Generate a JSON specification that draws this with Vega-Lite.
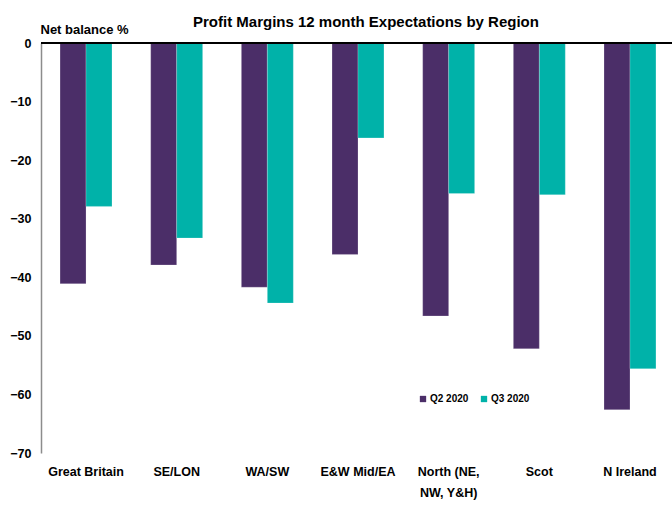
{
  "$schema": "https://vega.github.io/schema/vega-lite/v6.json",
  "autosize": {"type": "none"},
  "width": 634,
  "height": 410,
  "padding": {"left": 41, "top": 43, "right": 0, "bottom": 61},
  "background": "white",
  "title": {
    "text": "Profit Margins 12 month Expectations by Region",
    "fontSize": 15,
    "fontWeight": "bold",
    "color": "black",
    "anchor": "start",
    "frame": "group",
    "dx": 152,
    "dy": 17,
    "offset": 10
  },
  "data": {
    "values": [
      {"region": "Great Britain", "series": "Q2 2020", "value": -41.1},
      {"region": "Great Britain", "series": "Q3 2020", "value": -27.9},
      {"region": "SE/LON", "series": "Q2 2020", "value": -37.9},
      {"region": "SE/LON", "series": "Q3 2020", "value": -33.3},
      {"region": "WA/SW", "series": "Q2 2020", "value": -41.7},
      {"region": "WA/SW", "series": "Q3 2020", "value": -44.4},
      {"region": "E&W Mid/EA", "series": "Q2 2020", "value": -36.1},
      {"region": "E&W Mid/EA", "series": "Q3 2020", "value": -16.2},
      {"region": "North (NE, NW, Y&H)", "series": "Q2 2020", "value": -46.6},
      {"region": "North (NE, NW, Y&H)", "series": "Q3 2020", "value": -25.7},
      {"region": "Scot", "series": "Q2 2020", "value": -52.2},
      {"region": "Scot", "series": "Q3 2020", "value": -25.9},
      {"region": "N Ireland", "series": "Q2 2020", "value": -62.6},
      {"region": "N Ireland", "series": "Q3 2020", "value": -55.6}
    ]
  },
  "layer": [
    {
      "mark": {"type": "bar", "stroke": "#ffffff", "strokeOpacity": 0.35, "strokeWidth": 0.6},
      "encoding": {
        "x": {
          "field": "region",
          "type": "nominal",
          "sort": ["Great Britain", "SE/LON", "WA/SW", "E&W Mid/EA", "North (NE, NW, Y&H)", "Scot", "N Ireland"],
          "scale": {"paddingInner": 0.427, "paddingOuter": 0.21},
          "axis": {
            "title": null,
            "orient": "bottom",
            "domain": false,
            "ticks": false,
            "labelAngle": 0,
            "labelFontSize": 12.5,
            "labelFontWeight": "bold",
            "labelColor": "black",
            "labelPadding": 12,
            "labelLineHeight": 21,
            "labelExpr": "datum.label == 'North (NE, NW, Y&H)' ? ['North (NE,', 'NW, Y&H)'] : datum.label"
          }
        },
        "xOffset": {
          "field": "series",
          "type": "nominal",
          "scale": {"paddingInner": 0, "paddingOuter": 0}
        },
        "y": {
          "field": "value",
          "type": "quantitative",
          "scale": {"domain": [-70, 0], "nice": false, "zero": false},
          "axis": {
            "values": [0, -10, -20, -30, -40, -50, -60, -70],
            "grid": false,
            "ticks": false,
            "domainColor": "#8c8c8c",
            "domainWidth": 1.5,
            "labelFontSize": 12.5,
            "labelFontWeight": "bold",
            "labelColor": "black",
            "labelPadding": 10,
            "title": "Net balance %",
            "titleAngle": 0,
            "titleAlign": "left",
            "titleBaseline": "alphabetic",
            "titleX": -1,
            "titleY": -10,
            "titleFontSize": 13,
            "titleFontWeight": "bold",
            "titleColor": "black"
          }
        },
        "color": {
          "field": "series",
          "type": "nominal",
          "scale": {"domain": ["Q2 2020", "Q3 2020"], "range": ["#4b2e68", "#00b2a9"]},
          "legend": {
            "title": null,
            "orient": "none",
            "legendX": 377,
            "legendY": 351,
            "direction": "horizontal",
            "symbolType": "square",
            "symbolSize": 40,
            "symbolStrokeWidth": 0,
            "labelFontSize": 10,
            "labelFontWeight": "bold",
            "labelColor": "black",
            "labelOffset": 2,
            "columnSpacing": 41
          }
        }
      }
    },
    {
      "mark": {"type": "rule", "color": "black", "strokeWidth": 1.5},
      "encoding": {"y": {"datum": 0}}
    }
  ],
  "config": {
    "view": {"stroke": null},
    "font": "Liberation Sans"
  }
}
